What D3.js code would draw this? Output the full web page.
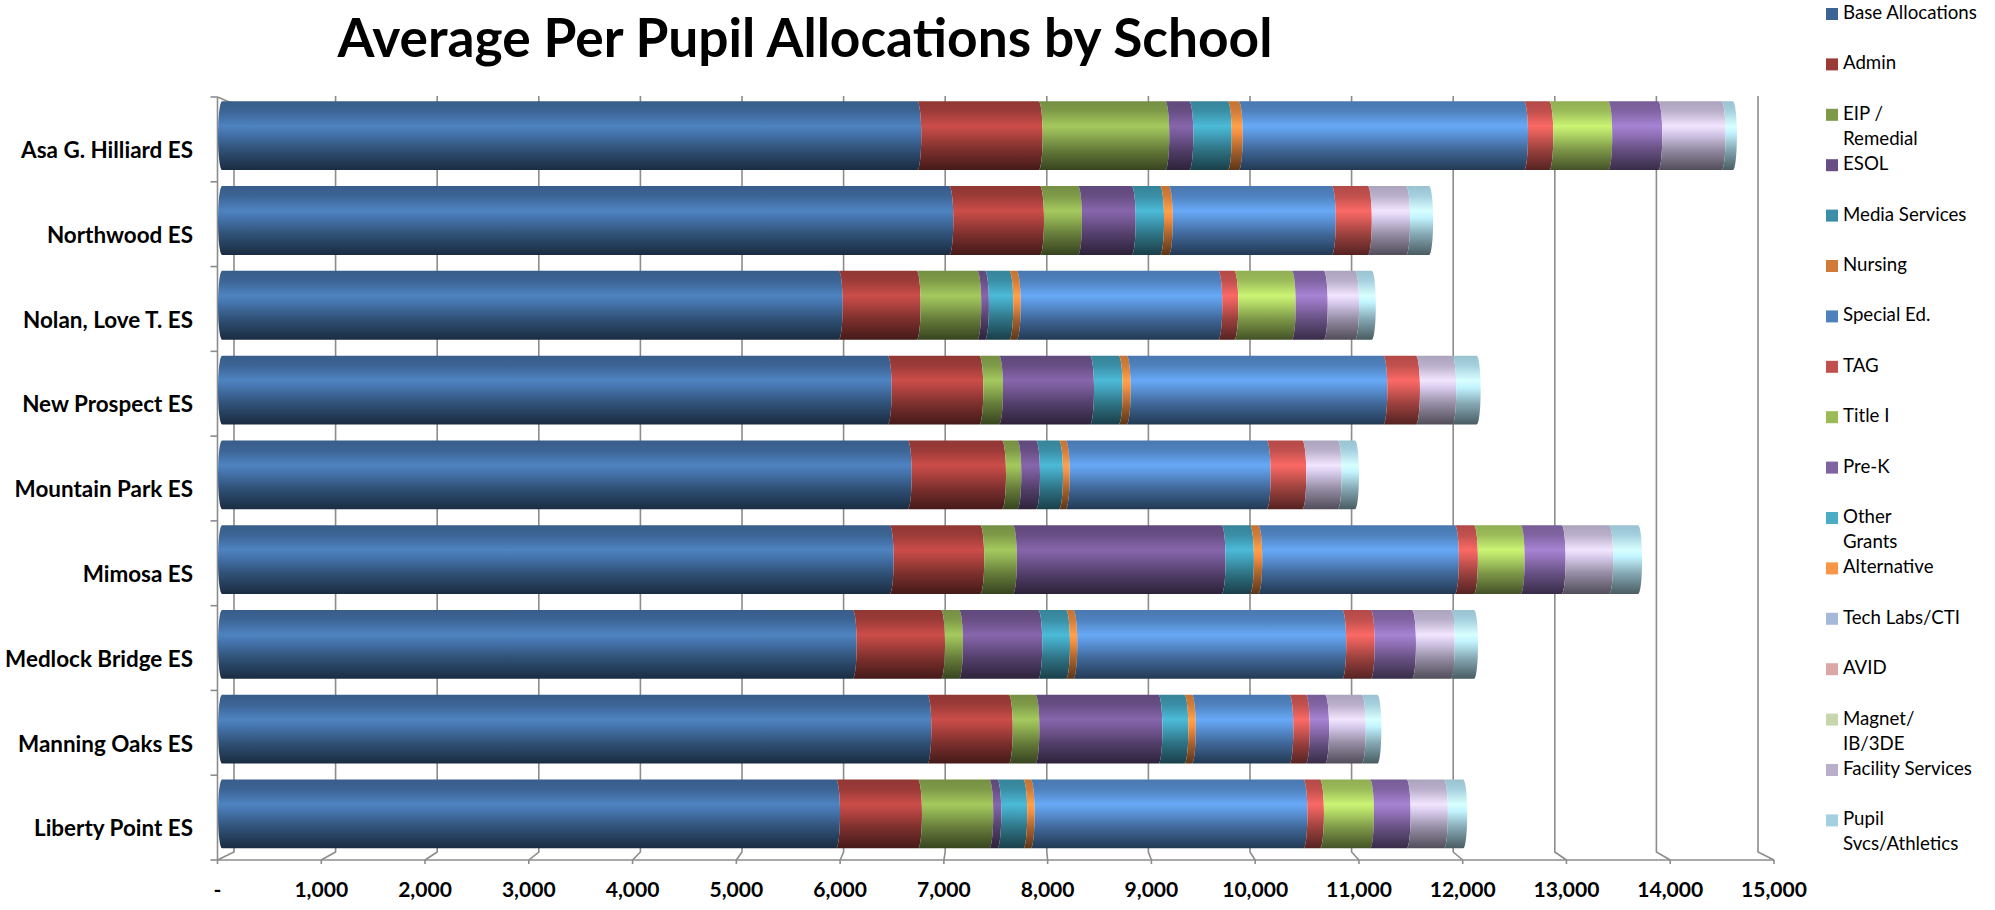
<!DOCTYPE html>
<html><head><meta charset="utf-8">
<script src="https://cdn.jsdelivr.net/npm/d3@7"></script>
<style>html,body{margin:0;padding:0;background:#fff;} svg{display:block;font-family:Lato,"Noto Sans",sans-serif;}</style>
</head><body>
<svg id="chart" width="1995" height="910"></svg>
<script>
// ---------- DATA ----------
const chartTitle = "Average Per Pupil Allocations by School";
const schools = ["Asa G. Hilliard ES", "Northwood ES", "Nolan, Love T. ES", "New Prospect ES",
  "Mountain Park ES", "Mimosa ES", "Medlock Bridge ES", "Manning Oaks ES", "Liberty Point ES"];

const baseAllocations  = [6770, 7082, 6005, 6482, 6677, 6501, 6141, 6868, 5979];
const admin            = [1182,  883,  759,  892,  918,  882,  860,  793,  798];
const eipRemedial      = [1233,  370,  590,  192,  149,  318,  175,  259,  694];
const esol             = [ 234,  523,   75,  886,  182, 2032,  772, 1198,   78];
const mediaServices    = [ 374,  276,  237,  279,  224,  276,  270,  253,  253];
const nursing          = [ 107,   85,   72,   78,   65,   81,   71,   72,   72];
const specialEd        = [2778, 1587, 1963, 2499, 1957, 1915, 2619,  950, 2656];
const tag              = [ 246,  351,  156,  318,  347,  185,  277,  160,  161];
const titleI           = [ 574,    0,  559,    0,    0,  455,    0,    0,  487];
const preK             = [ 487,    0,  312,    0,    0,  399,  402,  188,  357];
const otherGrants      = [   0,    0,    0,    0,    0,    0,    0,    0,    0];
const alternative      = [   0,    0,    0,    0,    0,    0,    0,    0,    0];
const techLabsCTI      = [   0,    0,    0,    0,    0,    0,    0,    0,    0];
const avid             = [   0,    0,    0,    0,    0,    0,    0,    0,    0];
const magnetIB3DE      = [   0,    0,    0,    0,    0,    0,    0,    0,    0];
const facilityServices = [ 617,  373,  305,  353,  345,  463,  377,  357,  363];
const pupilSvcs        = [ 110,  224,  163,  238,  168,  282,  227,  152,  188];

const seriesNames = ["Base Allocations", "Admin", "EIP / Remedial", "ESOL", "Media Services", "Nursing",
  "Special Ed.", "TAG", "Title I", "Pre-K", "Other Grants", "Alternative", "Tech Labs/CTI", "AVID",
  "Magnet/ IB/3DE", "Facility Services", "Pupil Svcs/Athletics"];
const legendLines = [["Base Allocations"], ["Admin"], ["EIP /", "Remedial"], ["ESOL"], ["Media Services"],
  ["Nursing"], ["Special Ed."], ["TAG"], ["Title I"], ["Pre-K"], ["Other", "Grants"], ["Alternative"],
  ["Tech Labs/CTI"], ["AVID"], ["Magnet/", "IB/3DE"], ["Facility Services"], ["Pupil", "Svcs/Athletics"]];
const seriesColors = ["#3C6494", "#9B3B38", "#7E9A48", "#674E84", "#3A8EA5", "#D27B38", "#4F81BD",
  "#C0504D", "#9BBB59", "#8064A2", "#4BACC6", "#F79646", "#A7B9DA", "#DCA8A7", "#C6D7AD", "#B9AFCB", "#A5D0DF"];

const tickValues = [0, 1000, 2000, 3000, 4000, 5000, 6000, 7000, 8000, 9000, 10000, 11000, 12000, 13000, 14000, 15000];
const tickLabels = ["-", "1,000", "2,000", "3,000", "4,000", "5,000", "6,000", "7,000", "8,000", "9,000",
  "10,000", "11,000", "12,000", "13,000", "14,000", "15,000"];

const seriesValues = [baseAllocations, admin, eipRemedial, esol, mediaServices, nursing, specialEd, tag,
  titleI, preK, otherGrants, alternative, techLabsCTI, avid, magnetIB3DE, facilityServices, pupilSvcs];

// ---------- LAYOUT ----------
const svg = d3.select("#chart");
const defs = svg.append("defs");
const axisColor = "#8C8C8C";

const xFront = d3.scaleLinear().domain([0, 15000]).range([217.5, 1774]);
const xBack  = d3.scaleLinear().domain([0, 15000]).range([234, 1758]);
const xBar   = d3.scaleLinear().domain([0, 15000]).range([222, 1762.5]);
const yBand  = d3.scaleBand().domain(schools).range([97, 860]);
const wallTop = 96, floorBack = 852, floorFront = 860;
const barOffset = 4.3, barH = 68.8, capRx = 4;

// gradients
seriesColors.forEach((col, k) => {
  const c = d3.rgb(col);
  const g = defs.append("linearGradient").attr("id", "g" + k)
    .attr("x1", 0).attr("y1", 0).attr("x2", 0).attr("y2", 1);
  [[0, c.darker(0.2)], [0.14, c], [0.36, c.brighter(0.75)], [0.46, c.brighter(0.45)],
   [0.7, c.darker(0.6)], [1, c.darker(2.3)]].forEach(([o, cc]) =>
    g.append("stop").attr("offset", o).attr("stop-color", cc.formatHex()));
});

// gridlines (back wall + floor)
const grid = svg.append("g").attr("fill", "none").attr("stroke", axisColor).attr("stroke-width", 1.6);
grid.selectAll("path").data(tickValues).join("path")
  .attr("d", v => v === 0
    ? `M${xFront(v)},${wallTop + 1}L${xBack(v)},${wallTop + 8}L${xBack(v)},${floorBack}L${xFront(v)},${floorFront}`
    : `M${xBack(v)},${wallTop}L${xBack(v)},${floorBack}L${xFront(v)},${floorFront}`);

// axes
const ax = svg.append("g").attr("stroke", axisColor).attr("stroke-width", 1.6);
ax.append("line").attr("x1", xFront(0)).attr("x2", xFront(0)).attr("y1", wallTop + 1).attr("y2", floorFront);
ax.append("line").attr("x1", xFront(0)).attr("x2", xFront(15000)).attr("y1", floorFront).attr("y2", floorFront);
ax.selectAll(".bt").data(tickValues).join("line")
  .attr("x1", v => xFront(v)).attr("x2", v => xFront(v)).attr("y1", floorFront).attr("y2", floorFront + 4);
const bounds = schools.map(s => yBand(s)).concat([yBand.range()[1]]);
ax.selectAll(".lt").data(bounds).join("line")
  .attr("x1", xFront(0) - 7).attr("x2", xFront(0)).attr("y1", d => d).attr("y2", d => d);

// bars
const rows = schools.map((s, i) => {
  const o = {school: s};
  seriesValues.forEach((arr, k) => o[k] = arr[i]);
  return o;
});
const keys = seriesValues.map((_, k) => k);
const stacked = d3.stack().keys(keys)(rows);

function segPath(x0, x1, t, b, first) {
  const ry = (b - t) / 2;
  return `M${x0},${t}L${x1},${t}A${capRx},${ry} 0 0 1 ${x1},${b}L${x0},${b}` +
         `A${capRx},${ry} 0 0 ${first ? 1 : 0} ${x0},${t}Z`;
}
const barsG = svg.append("g");
stacked.forEach((layer, k) => {
  layer.forEach((d, i) => {
    if (d[1] - d[0] <= 0) return;
    const t = yBand(schools[i]) + barOffset, b = t + barH;
    barsG.append("path")
      .attr("d", segPath(xBar(d[0]), xBar(d[1]), t, b, k === 0))
      .attr("fill", `url(#g${k})`);
  });
});

// helper: fit font size to a target width
function fit(sel, target) {
  const base = 20;
  sel.style("font-size", base + "px");
  const w = sel.node().getComputedTextLength();
  return base * target / w;
}

// category labels
const catG = svg.append("g").attr("font-weight", 700).attr("fill", "#000");
const cats = catG.selectAll("text").data(schools).join("text")
  .attr("x", 193).attr("y", s => yBand(s) + yBand.bandwidth() / 2 + 13)
  .attr("text-anchor", "end").attr("dominant-baseline", "middle").text(s => s);
const catSize = fit(cats.filter(s => s === "Medlock Bridge ES"), 188);
cats.style("font-size", catSize + "px");

// x tick labels
const xl = svg.append("g").attr("font-weight", 700).attr("fill", "#000");
const xls = xl.selectAll("text").data(tickValues).join("text")
  .attr("x", v => xFront(v)).attr("y", 892)
  .attr("text-anchor", "middle").attr("dominant-baseline", "middle")
  .text((v, i) => tickLabels[i]);
const xlSize = fit(xls.filter(v => v === 15000), 66);
xls.style("font-size", xlSize + "px");

// title
const title = svg.append("text").attr("x", 805).attr("y", 57).attr("text-anchor", "middle")
  .attr("font-weight", 700).attr("fill", "#000").text(chartTitle);
title.style("font-size", fit(title, 935) + "px");

// legend
const lg = svg.append("g");
const items = lg.selectAll("g").data(seriesNames).join("g")
  .attr("transform", (d, k) => `translate(1826,${14 + k * 50.4})`);
items.append("rect").attr("x", 0).attr("y", -6).attr("width", 12).attr("height", 12)
  .attr("fill", (d, k) => seriesColors[k]);
const ltexts = items.append("text").attr("x", 17).attr("y", 0).attr("fill", "#000")
  .attr("dominant-baseline", "middle");
ltexts.each(function(d, k) {
  d3.select(this).selectAll("tspan").data(legendLines[k]).join("tspan")
    .attr("x", 17).attr("dy", (l, j) => j === 0 ? 0 : 25).text(l => l);
});
const lgSize = fit(ltexts.filter(d => d === "Base Allocations"), 134);
ltexts.style("font-size", lgSize + "px");
</script>
</body></html>
